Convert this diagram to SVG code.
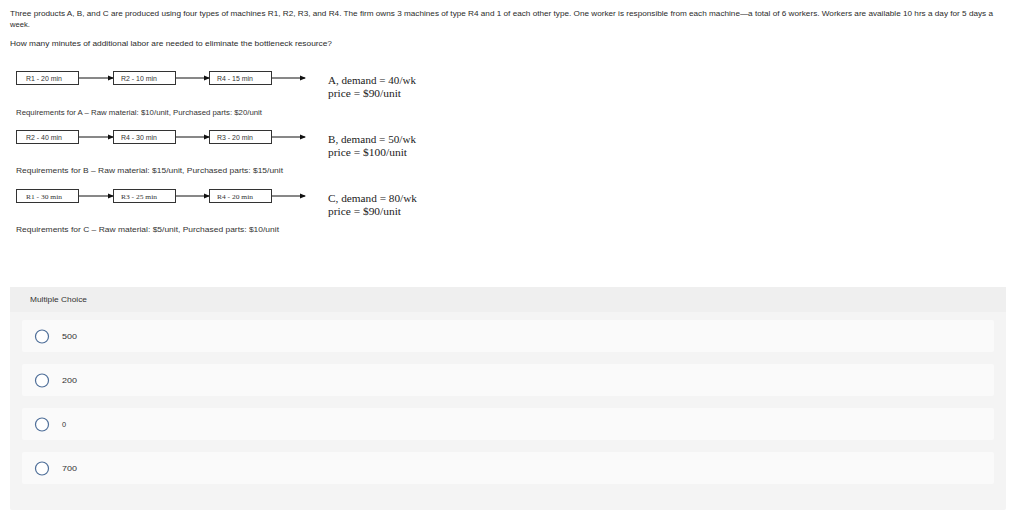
<svg xmlns="http://www.w3.org/2000/svg" width="1024" height="512" viewBox="0 0 1024 512">
<defs>
<style>
.q{font-family:"Liberation Sans",Arial,sans-serif;font-size:7.6px;fill:#2a2a2a}
.bx{fill:#fff;stroke:#333;stroke-width:1}
.bt{font-family:"Liberation Sans",Arial,sans-serif;font-size:6.6px;fill:#333}
.bts{font-family:"Liberation Serif","Times New Roman",serif;font-size:7px;fill:#333}
.req{font-family:"Liberation Sans",Arial,sans-serif;font-size:7.2px;fill:#333}
.dm{font-family:"Liberation Serif","Times New Roman",serif;font-size:10px;fill:#222}
.ln{stroke:#111;stroke-width:1;fill:none;marker-end:url(#ah)}
.opt{fill:#fafafa}
.rad{fill:#fff;stroke:#4f6f99;stroke-width:1.2}
.ot{font-family:"Liberation Sans",Arial,sans-serif;font-size:7.4px;fill:#333}
</style>
<marker id="ah" markerWidth="6" markerHeight="6" refX="5" refY="3" orient="auto" markerUnits="userSpaceOnUse">
<path d="M0,0.5 L6,3 L0,5.5 Z" fill="#111"/>
</marker>
</defs>
<rect width="1024" height="512" fill="#fff"/>
<g id="question">
<text class="q" x="10" y="16" textLength="983" lengthAdjust="spacingAndGlyphs">Three products A, B, and C are produced using four types of machines R1, R2, R3, and R4. The firm owns 3 machines of type R4 and 1 of each other type. One worker is responsible from each machine—a total of 6 workers. Workers are available 10 hrs a day for 5 days a</text>
<text class="q" x="10" y="27">week.</text>
<text class="q" x="10" y="46" textLength="322" lengthAdjust="spacingAndGlyphs">How many minutes of additional labor are needed to eliminate the bottleneck resource?</text>
</g>
<g id="connectors">
<line class="ln" x1="78" y1="78" x2="113" y2="78"/>
<line class="ln" x1="175" y1="78" x2="209" y2="78"/>
<line class="ln" x1="271" y1="78" x2="305" y2="78"/>
<line class="ln" x1="78" y1="137" x2="113" y2="137"/>
<line class="ln" x1="175" y1="137" x2="209" y2="137"/>
<line class="ln" x1="271" y1="137" x2="305" y2="137"/>
<line class="ln" x1="78" y1="196" x2="113" y2="196"/>
<line class="ln" x1="175" y1="196" x2="209" y2="196"/>
<line class="ln" x1="271" y1="196" x2="305" y2="196"/>
</g>
<g id="A-R1"><rect class="bx" x="16.5" y="71.5" width="62" height="13"/><text class="bt" x="26" y="80.5" textLength="36" lengthAdjust="spacingAndGlyphs">R1 - 20 min</text></g>
<g id="A-R2"><rect class="bx" x="113.5" y="71.5" width="62" height="13"/><text class="bt" x="121" y="80.5" textLength="36" lengthAdjust="spacingAndGlyphs">R2 - 10 min</text></g>
<g id="A-R4"><rect class="bx" x="209.5" y="71.5" width="62" height="13"/><text class="bt" x="217" y="80.5" textLength="36" lengthAdjust="spacingAndGlyphs">R4 - 15 min</text></g>
<g id="A-out"><text class="dm" x="328" y="84" textLength="88" lengthAdjust="spacingAndGlyphs">A, demand = 40/wk</text><text class="dm" x="328" y="97" textLength="73" lengthAdjust="spacingAndGlyphs">price = $90/unit</text></g>
<text class="req" x="16" y="115" textLength="246" lengthAdjust="spacingAndGlyphs">Requirements for A – Raw material: $10/unit, Purchased parts: $20/unit</text>
<g id="B-R2"><rect class="bx" x="16.5" y="130.5" width="62" height="13"/><text class="bt" x="26" y="139.5" textLength="36" lengthAdjust="spacingAndGlyphs">R2 - 40 min</text></g>
<g id="B-R4"><rect class="bx" x="113.5" y="130.5" width="62" height="13"/><text class="bt" x="121" y="139.5" textLength="36" lengthAdjust="spacingAndGlyphs">R4 - 30 min</text></g>
<g id="B-R3"><rect class="bx" x="209.5" y="130.5" width="62" height="13"/><text class="bt" x="217" y="139.5" textLength="36" lengthAdjust="spacingAndGlyphs">R3 - 20 min</text></g>
<g id="B-out"><text class="dm" x="328" y="143" textLength="88" lengthAdjust="spacingAndGlyphs">B, demand = 50/wk</text><text class="dm" x="328" y="156" textLength="79" lengthAdjust="spacingAndGlyphs">price = $100/unit</text></g>
<text class="req" x="16" y="173" textLength="267" lengthAdjust="spacingAndGlyphs">Requirements for B – Raw material: $15/unit, Purchased parts: $15/unit</text>
<g id="C-R1"><rect class="bx" x="16.5" y="189.5" width="62" height="13"/><text class="bts" x="26" y="198.5" textLength="36" lengthAdjust="spacingAndGlyphs">R1 - 30 min</text></g>
<g id="C-R3"><rect class="bx" x="113.5" y="189.5" width="62" height="13"/><text class="bts" x="121" y="198.5" textLength="36" lengthAdjust="spacingAndGlyphs">R3 - 25 min</text></g>
<g id="C-R4"><rect class="bx" x="209.5" y="189.5" width="62" height="13"/><text class="bts" x="217" y="198.5" textLength="36" lengthAdjust="spacingAndGlyphs">R4 - 20 min</text></g>
<g id="C-out"><text class="dm" x="328" y="202" textLength="89" lengthAdjust="spacingAndGlyphs">C, demand = 80/wk</text><text class="dm" x="328" y="215" textLength="73" lengthAdjust="spacingAndGlyphs">price = $90/unit</text></g>
<text class="req" x="16" y="232" textLength="263" lengthAdjust="spacingAndGlyphs">Requirements for C – Raw material: $5/unit, Purchased parts: $10/unit</text>
<g id="choices">
<rect x="10" y="287" width="996" height="223" rx="2" fill="#f4f4f4"/>
<rect x="10" y="287" width="996" height="25" fill="#efefef"/>
<text class="ot" x="30" y="302" textLength="57" lengthAdjust="spacingAndGlyphs">Multiple Choice</text>
<rect class="opt" x="22" y="320" width="972" height="32" rx="2"/>
<circle class="rad" cx="42" cy="336.5" r="6.5"/><text class="ot" x="62" y="339" textLength="15" lengthAdjust="spacingAndGlyphs">500</text>
<rect class="opt" x="22" y="364" width="972" height="32" rx="2"/>
<circle class="rad" cx="42" cy="380.5" r="6.5"/><text class="ot" x="62" y="383" textLength="15" lengthAdjust="spacingAndGlyphs">200</text>
<rect class="opt" x="22" y="408" width="972" height="32" rx="2"/>
<circle class="rad" cx="42" cy="424.5" r="6.5"/><text class="ot" x="62" y="427">0</text>
<rect class="opt" x="22" y="452" width="972" height="32" rx="2"/>
<circle class="rad" cx="42" cy="468.5" r="6.5"/><text class="ot" x="62" y="471" textLength="15" lengthAdjust="spacingAndGlyphs">700</text>
</g>
</svg>
